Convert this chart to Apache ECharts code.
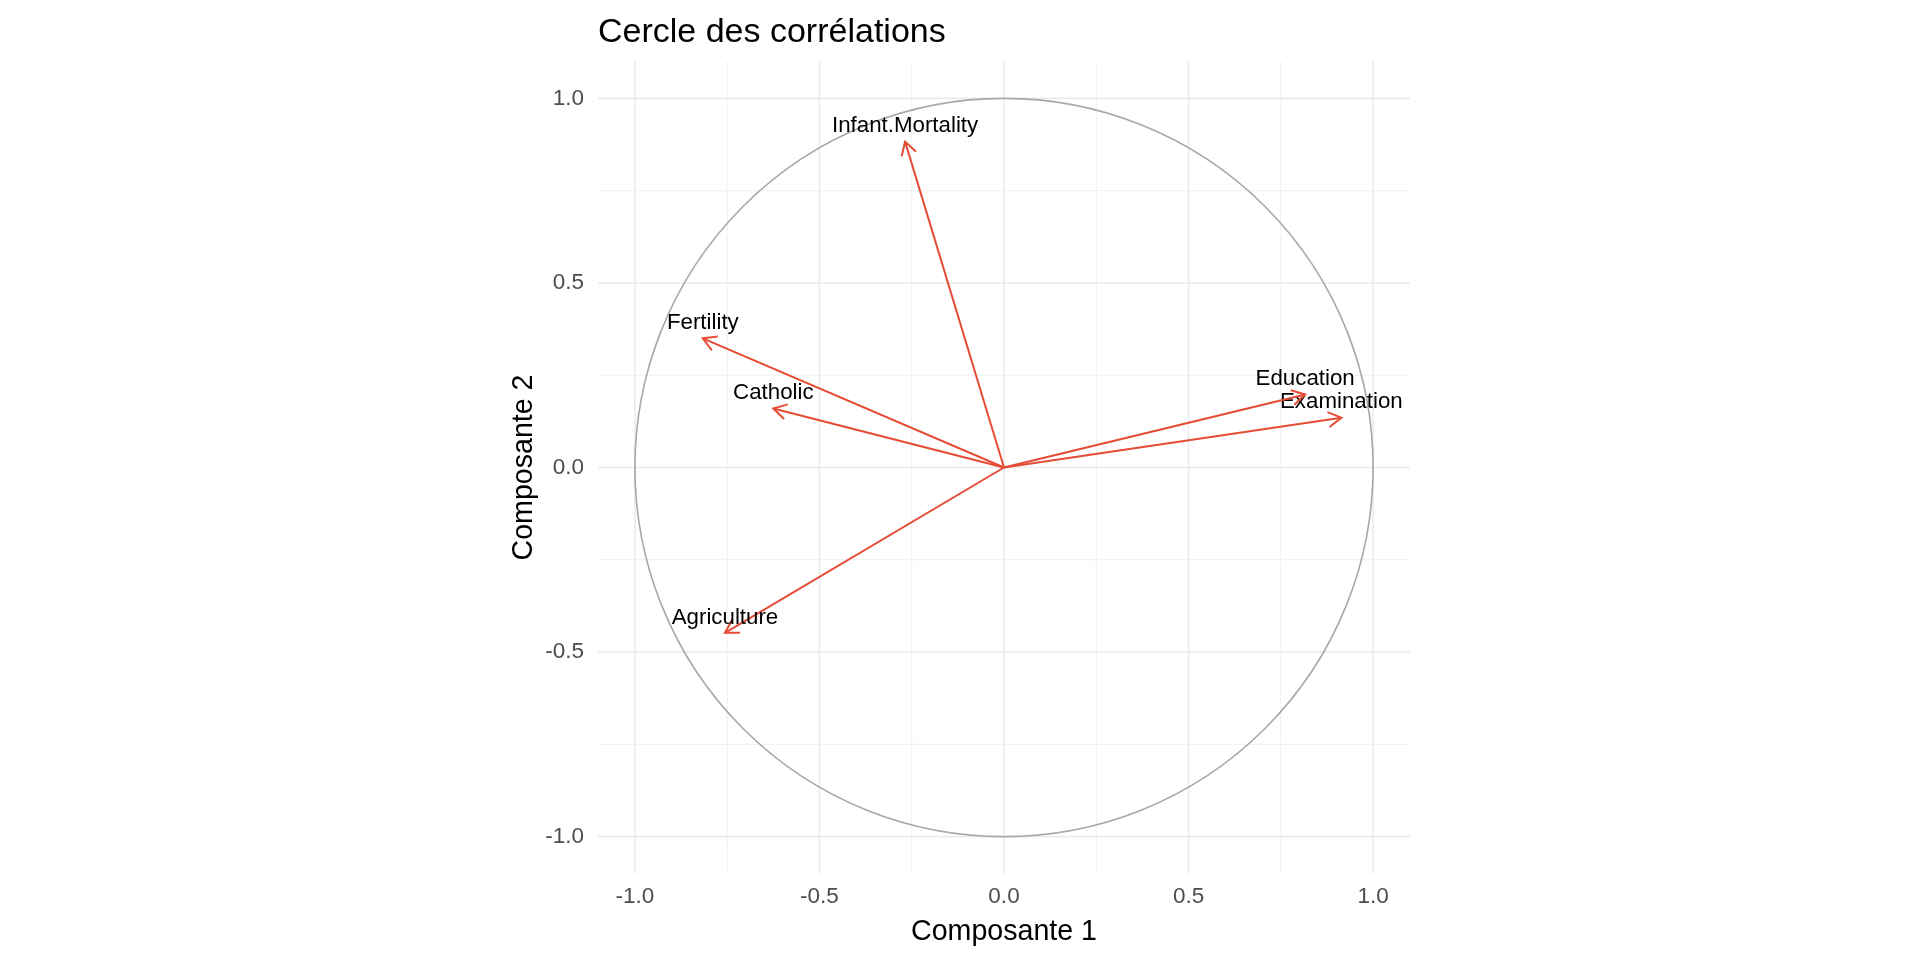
<!DOCTYPE html>
<html>
<head>
    <meta charset="UTF-8">
    <title>Cercle des corrélations</title>
    <style>
        html, body {margin: 0; padding: 0; background: #fff;}
        #main {width: 1920px; height: 960px;}
    </style>
</head>
<body>
<div id="main"></div>
<script src="https://cdn.jsdelivr.net/npm/echarts@6/dist/echarts.min.js"></script>
<script>
    // variables et coordonnées (corrélations avec les composantes 1 et 2)
    var varNames = ['Fertility', 'Agriculture', 'Examination', 'Education', 'Catholic', 'Infant.Mortality'];
    var comp1 = [-0.816, -0.756, 0.914, 0.816, -0.625, -0.268];
    var comp2 = [0.350, -0.448, 0.135, 0.198, 0.160, 0.883];

    // graduations
    var majorTicks = [-1, -0.5, 0, 0.5, 1];
    var minorTicks = [-0.75, -0.25, 0.25, 0.75];

    var FONT = "'Liberation Sans', Arial, sans-serif";
    var RED = '#E64B35';

    var gridData = majorTicks.map(function (v) { return [v, 1]; })
        .concat(minorTicks.map(function (v) { return [v, 0]; }));
    var arrowData = varNames.map(function (n, i) { return [comp1[i], comp2[i]]; });

    var myChart = echarts.init(document.getElementById('main'));

    var option = {
        animation: false,
        backgroundColor: '#fff',
        grid: {left: 598, top: 61.5, width: 812, height: 812},
        xAxis: {
            type: 'value', min: -1.1, max: 1.1,
            axisLine: {show: false}, axisTick: {show: false}, splitLine: {show: false},
            axisLabel: {
                customValues: majorTicks,
                formatter: function (v) { return v.toFixed(1); },
                color: '#4D4D4D', fontSize: 22.5, fontFamily: FONT, margin: 12
            }
        },
        yAxis: {
            type: 'value', min: -1.1, max: 1.1,
            axisLine: {show: false}, axisTick: {show: false}, splitLine: {show: false},
            axisLabel: {
                customValues: majorTicks,
                formatter: function (v) { return v.toFixed(1); },
                color: '#4D4D4D', fontSize: 22.5, fontFamily: FONT, margin: 14
            }
        },
        graphic: [
            {type: 'text', x: 598, y: 33, style: {text: 'Cercle des corrélations', fill: '#000', fontSize: 34, fontFamily: FONT, align: 'left', verticalAlign: 'middle'}},
            {type: 'text', x: 1004, y: 932, style: {text: 'Composante 1', fill: '#000', fontSize: 28.6, fontFamily: FONT, align: 'center', verticalAlign: 'middle'}},
            {type: 'text', x: 524, y: 467.5, rotation: Math.PI / 2, style: {text: 'Composante 2', fill: '#000', fontSize: 28.6, fontFamily: FONT, align: 'center', verticalAlign: 'middle'}}
        ],
        series: [
            {
                // grille principale et secondaire
                type: 'custom', z: 1, silent: true,
                data: gridData,
                renderItem: function (params, api) {
                    var cs = params.coordSys;
                    var v = api.value(0);
                    var major = api.value(1) === 1;
                    var px = api.coord([v, 0])[0];
                    var py = api.coord([0, v])[1];
                    var st = {stroke: '#EBEBEB', lineWidth: major ? 1.6 : 0.8};
                    return {type: 'group', children: [
                        {type: 'line', shape: {x1: px, y1: cs.y, x2: px, y2: cs.y + cs.height}, style: st},
                        {type: 'line', shape: {x1: cs.x, y1: py, x2: cs.x + cs.width, y2: py}, style: st}
                    ]};
                }
            },
            {
                // cercle unité
                type: 'custom', z: 2, silent: true,
                data: [[0, 0]],
                renderItem: function (params, api) {
                    var c = api.coord([api.value(0), api.value(1)]);
                    var r = api.size([1, 1])[0];
                    return {type: 'circle', shape: {cx: c[0], cy: c[1], r: r}, style: {fill: 'none', stroke: '#A8A8A8', lineWidth: 1.6}};
                }
            },
            {
                // flèches + étiquettes
                type: 'custom', z: 3, silent: true,
                data: arrowData,
                renderItem: function (params, api) {
                    var o = api.coord([0, 0]);
                    var p = api.coord([api.value(0), api.value(1)]);
                    var dx = o[0] - p[0], dy = o[1] - p[1];
                    var len = Math.sqrt(dx * dx + dy * dy);
                    var ux = dx / len, uy = dy / len;
                    var a = Math.PI / 6, hl = 15;
                    var b1 = [p[0] + hl * (ux * Math.cos(a) - uy * Math.sin(a)), p[1] + hl * (ux * Math.sin(a) + uy * Math.cos(a))];
                    var b2 = [p[0] + hl * (ux * Math.cos(a) + uy * Math.sin(a)), p[1] + hl * (-ux * Math.sin(a) + uy * Math.cos(a))];
                    var st = {stroke: RED, lineWidth: 2, fill: 'none'};
                    return {type: 'group', children: [
                        {type: 'line', shape: {x1: o[0], y1: o[1], x2: p[0], y2: p[1]}, style: st},
                        {type: 'polyline', shape: {points: [b1, p, b2]}, style: st},
                        {type: 'text', x: p[0], y: p[1] - 15.5, style: {text: varNames[params.dataIndex], fill: '#000', fontSize: 22.3, fontFamily: FONT, align: 'center', verticalAlign: 'middle'}}
                    ]};
                }
            }
        ]
    };
    myChart.setOption(option);
</script>
</body>
</html>
